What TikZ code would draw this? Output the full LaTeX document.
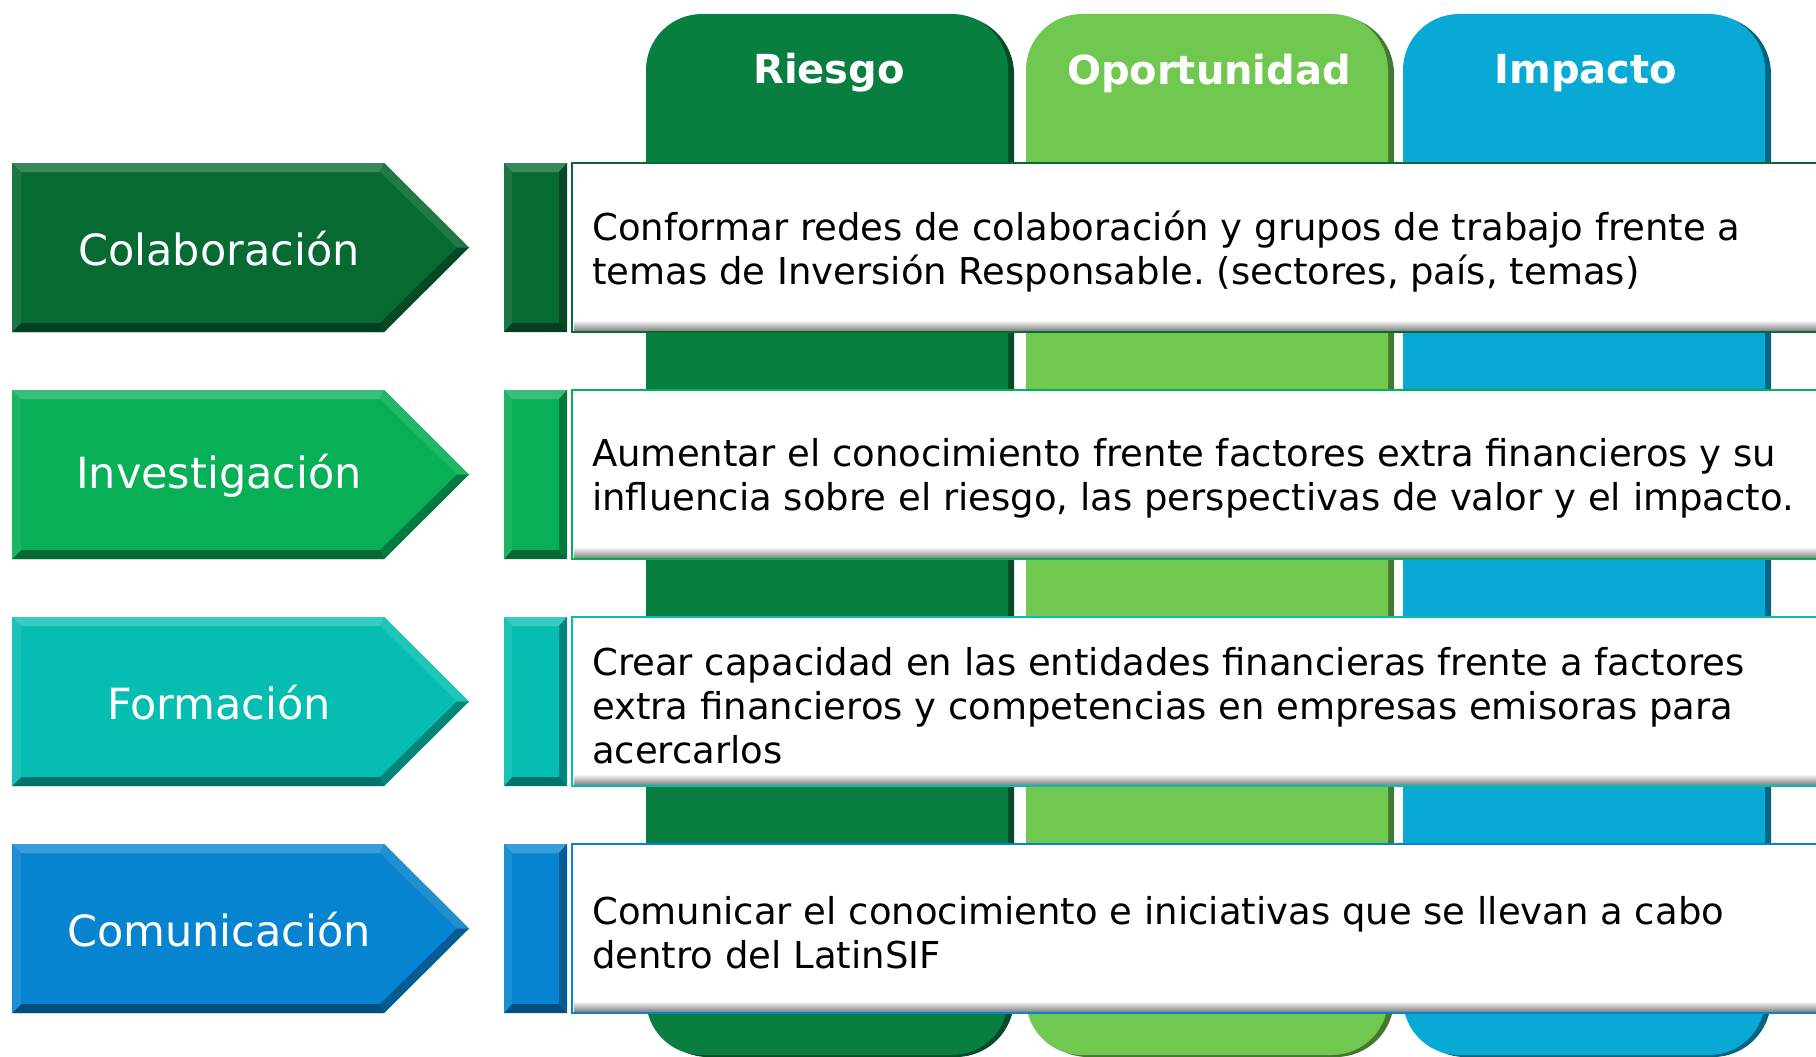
\documentclass[tikz,border=0pt]{standalone}
\usepackage{fontspec}
\setmainfont{DejaVu Sans}
\frenchspacing
\definecolor{colA}{HTML}{076A33}
\definecolor{colB}{HTML}{07AF56}
\definecolor{colC}{HTML}{05BEB1}
\definecolor{colD}{HTML}{0784D0}
\definecolor{riesgo}{HTML}{087E41}
\definecolor{oport}{HTML}{70C850}
\definecolor{impac}{HTML}{09A9D6}
\tikzset{
  colhead/.style={text=white,font=\fontsize{40}{46}\selectfont\bfseries},
  arrlabel/.style={text=white,font=\fontsize{43}{50}\selectfont},
  bodytext/.style={anchor=west,align=left,text=black,font=\fontsize{37}{44}\selectfont,inner sep=0pt},
}
\begin{document}
\begin{tikzpicture}[x=1pt,y=-1pt]
\useasboundingbox (0,0) rectangle (1816,1057);
\fill[white] (0,0) rectangle (1816,1057);
\begin{scope}
\clip (0,0) rectangle (1816,1057);
\foreach \xl/\cc in {646/riesgo,1026/oport,1403/impac}{
  \fill[\cc!60!black,rounded corners=58pt] (\xl+4,16) rectangle (\xl+368,1057);
  \fill[\cc,rounded corners=56pt] (\xl,14) rectangle (\xl+362,1055);
}
\node[colhead] (headR) at (829,73) {Riesgo};
\node[colhead] (headO) at (1209,73) {Oportunidad};
\node[colhead] (headI) at (1586,73) {Impacto};
\foreach \yt/\cc in {163/colA,390/colB,617/colC,844/colD}{
  \pgfmathsetmacro{\yb}{\yt+169}
  \pgfmathsetmacro{\ym}{\yt+84.5}
  \fill[\cc] (12,\yt) -- (384,\yt) -- (469,\ym) -- (384,\yb) -- (12,\yb) -- cycle;
  \fill[\cc!80!white] (12,\yt) -- (384,\yt) -- (380,\yt+9) -- (21,\yt+9) -- cycle;
  \fill[\cc!90!white] (384,\yt) -- (469,\ym) -- (457,\ym) -- (380,\yt+9) -- cycle;
  \fill[\cc!70!black] (469,\ym) -- (384,\yb) -- (380,\yb-9) -- (457,\ym) -- cycle;
  \fill[\cc!60!black] (12,\yb) -- (384,\yb) -- (380,\yb-9) -- (21,\yb-9) -- cycle;
  \fill[\cc!92!white] (12,\yt) -- (21,\yt+9) -- (21,\yb-9) -- (12,\yb) -- cycle;
  \fill[\cc] (504,\yt) rectangle (567,\yb);
  \fill[\cc!80!white] (504,\yt) -- (567,\yt) -- (559,\yt+9) -- (512,\yt+9) -- cycle;
  \fill[\cc!60!black] (504,\yb) -- (567,\yb) -- (559,\yb-9) -- (512,\yb-9) -- cycle;
  \fill[\cc!70!black] (567,\yt) -- (567,\yb) -- (559,\yb-9) -- (559,\yt+9) -- cycle;
  \fill[\cc!92!white] (504,\yt) -- (512,\yt+9) -- (512,\yb-9) -- (504,\yb) -- cycle;
  \fill[white] (572,\yt) rectangle (1820,\yb);
  \shade[top color=white,bottom color=black!45] (574,\yb-12) rectangle (1820,\yb-2);
  \draw[\cc,line width=2.5pt] (1820,\yt) -- (572,\yt) -- (572,\yb) -- (1820,\yb);
}
\node[arrlabel] (labA) at (219,249) {Colaboración};
\node[arrlabel] (labB) at (219,476) {Investigación};
\node[arrlabel] (labC) at (219,703) {Formación};
\node[arrlabel] (labD) at (219,930) {Comunicación};
\node[bodytext] (txtA) at (592,251.5) {Conformar redes de colaboración y grupos de trabajo frente a\\temas de Inversión Responsable. (sectores, país, temas)};
\node[bodytext] (txtB) at (592,478.5) {Aumentar el conocimiento frente factores extra financieros y su\\influencia sobre el riesgo, las perspectivas de valor y el impacto.};
\node[bodytext] (txtC) at (592,705.5) {Crear capacidad en las entidades financieras frente a factores\\extra financieros y competencias en empresas emisoras para\\acercarlos};
\node[bodytext] (txtD) at (592,932.5) {Comunicar el conocimiento e iniciativas que se llevan a cabo\\dentro del LatinSIF};
\end{scope}
\end{tikzpicture}
\end{document}
